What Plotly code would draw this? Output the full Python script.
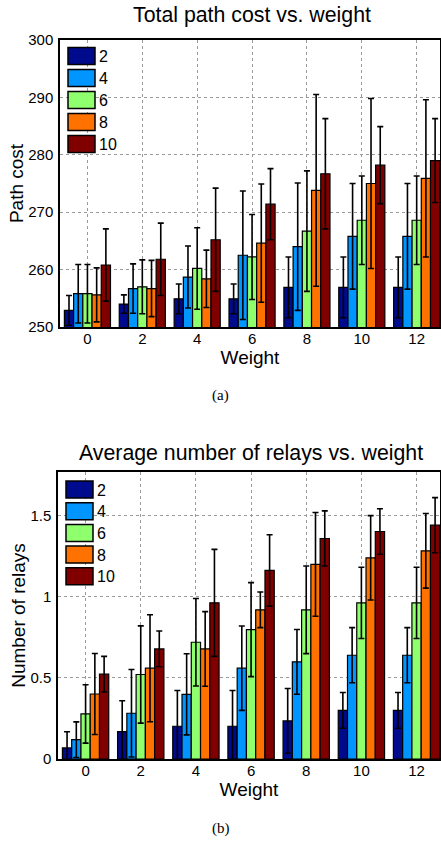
import plotly.graph_objects as go

weights = [0, 2, 4, 6, 8, 10, 12]
series_names = ["2", "4", "6", "8", "10"]
colors = ["#000A8C", "#0095FF", "#8FFF6E", "#FF7200", "#800000"]

# Total path cost (mean) per series
cost_2 = [252.9, 254.0, 254.9, 254.9, 256.9, 256.9, 256.9]
cost_4 = [255.8, 256.7, 258.7, 262.5, 264.0, 265.8, 265.8]
cost_6 = [255.8, 257.0, 260.2, 262.2, 266.7, 268.6, 268.6]
cost_8 = [255.6, 256.7, 258.4, 264.6, 273.8, 275.0, 275.9]
cost_10 = [260.8, 261.8, 265.2, 271.4, 276.7, 278.2, 279.0]
# error (std) of path cost
cost_err_2 = [2.6, 1.6, 2.6, 2.6, 5.3, 5.3, 5.3]
cost_err_4 = [5.1, 4.3, 5.4, 11.2, 11.1, 9.2, 9.2]
cost_err_6 = [5.1, 4.7, 7.1, 7.4, 10.5, 7.7, 7.7]
cost_err_8 = [4.7, 4.9, 5.0, 10.3, 16.7, 14.8, 13.7]
cost_err_10 = [6.3, 6.3, 9.0, 6.2, 9.6, 6.7, 7.3]

# Average number of relays per series
relays_2 = [0.068, 0.169, 0.202, 0.202, 0.235, 0.300, 0.300]
relays_4 = [0.119, 0.282, 0.399, 0.560, 0.599, 0.640, 0.640]
relays_6 = [0.278, 0.521, 0.720, 0.798, 0.920, 0.963, 0.963]
relays_8 = [0.401, 0.560, 0.679, 0.920, 1.200, 1.241, 1.284]
relays_10 = [0.523, 0.679, 0.963, 1.163, 1.360, 1.403, 1.442]
relays_err_2 = [0.10, 0.19, 0.22, 0.22, 0.20, 0.11, 0.11]
relays_err_4 = [0.11, 0.27, 0.25, 0.26, 0.20, 0.17, 0.17]
relays_err_6 = [0.18, 0.30, 0.27, 0.29, 0.27, 0.22, 0.22]
relays_err_8 = [0.25, 0.33, 0.23, 0.11, 0.32, 0.26, 0.23]
relays_err_10 = [0.11, 0.11, 0.33, 0.22, 0.17, 0.14, 0.17]

cost = [cost_2, cost_4, cost_6, cost_8, cost_10]
cost_err = [cost_err_2, cost_err_4, cost_err_6, cost_err_8, cost_err_10]
relays = [relays_2, relays_4, relays_6, relays_8, relays_10]
relays_err = [relays_err_2, relays_err_4, relays_err_6, relays_err_8, relays_err_10]

W, H = 441, 844
FONT = "Liberation Sans, Arial, sans-serif"

fig = go.Figure()
for i, name in enumerate(series_names):
    fig.add_trace(go.Bar(
        x=weights, y=cost[i], name=name, xaxis="x", yaxis="y",
        showlegend=False, legendgroup=name,
        marker=dict(color=colors[i], line=dict(color="black", width=1.2)),
        error_y=dict(type="data", array=cost_err[i], visible=True,
                     color="black", thickness=1.6, width=3),
    ))
for i, name in enumerate(series_names):
    fig.add_trace(go.Bar(
        x=weights, y=relays[i], name=name, xaxis="x2", yaxis="y2",
        showlegend=False, legendgroup=name,
        marker=dict(color=colors[i], line=dict(color="black", width=1.2)),
        error_y=dict(type="data", array=relays_err[i], visible=True,
                     color="black", thickness=1.6, width=3),
    ))

def px_x(p):
    return p / W

def px_y(p):
    return 1 - p / H

axis_common = dict(
    showline=True, linecolor="black", linewidth=1.5, mirror=True,
    showgrid=True, gridcolor="#9a9a9a", griddash="dot", gridwidth=1,
    zeroline=False, ticks="", automargin=False,
    tickfont=dict(family=FONT, size=15, color="black"),
)

# Legend drawn as swatches + text (MATLAB-style large patches)
shapes = []
annotations = []
legend_specs = [
    dict(left=68, top=47.5, step=22.0),   # panel (a)
    dict(left=66, top=481, step=21.7),    # panel (b)
]
for spec in legend_specs:
    for i, name in enumerate(series_names):
        y0 = spec["top"] + i * spec["step"]
        shapes.append(dict(
            type="rect", xref="paper", yref="paper",
            x0=px_x(spec["left"]), x1=px_x(spec["left"] + 27),
            y0=px_y(y0 + 17), y1=px_y(y0),
            fillcolor=colors[i], line=dict(color="black", width=1.5),
        ))
        annotations.append(dict(
            text=name, x=px_x(spec["left"] + 29), y=px_y(y0 + 9),
            xref="paper", yref="paper", xanchor="left", yanchor="middle",
            showarrow=False, font=dict(size=16, family=FONT, color="black"),
        ))

annotations += [
    dict(text="Total path cost vs. weight", x=px_x(252), y=px_y(15),
         xref="paper", yref="paper", xanchor="center", yanchor="middle",
         showarrow=False, font=dict(size=21.3, family=FONT, color="black")),
    dict(text="Average number of relays vs. weight", x=px_x(251), y=px_y(453),
         xref="paper", yref="paper", xanchor="center", yanchor="middle",
         showarrow=False, font=dict(size=21.3, family=FONT, color="black")),
    dict(text="(a)", x=px_x(221), y=px_y(395), xref="paper", yref="paper",
         xanchor="center", yanchor="middle", showarrow=False,
         font=dict(size=15, family="Liberation Serif, serif", color="black")),
    dict(text="(b)", x=px_x(221), y=px_y(828), xref="paper", yref="paper",
         xanchor="center", yanchor="middle", showarrow=False,
         font=dict(size=15, family="Liberation Serif, serif", color="black")),
]

fig.update_layout(
    width=W, height=H,
    margin=dict(l=0, r=0, t=0, b=0, pad=0, autoexpand=False),
    paper_bgcolor="white", plot_bgcolor="white",
    barmode="group", bargap=0.16, bargroupgap=0,
    font=dict(family=FONT, color="black"),
    showlegend=False,
    xaxis=dict(domain=[px_x(60), px_x(440)], anchor="y", range=[-1, 12.85],
               tickvals=weights, ticklabelstandoff=-3,
               title=dict(text="Weight", font=dict(size=19), standoff=0),
               **axis_common),
    yaxis=dict(domain=[px_y(327), px_y(40)], anchor="x", range=[250, 300],
               dtick=10, ticklabelstandoff=2,
               title=dict(text="Path cost", font=dict(size=19), standoff=0),
               **axis_common),
    xaxis2=dict(domain=[px_x(58), px_x(440)], anchor="y2", range=[-1, 12.85],
                tickvals=weights, ticklabelstandoff=-3,
                title=dict(text="Weight", font=dict(size=19), standoff=0),
                **axis_common),
    yaxis2=dict(domain=[px_y(759), px_y(472)], anchor="x2", range=[0, 1.77],
                tickvals=[0, 0.5, 1, 1.5], ticktext=["0", "0.5", "1", "1.5"],
                ticklabelstandoff=2,
                title=dict(text="Number of relays", font=dict(size=19), standoff=0),
                **axis_common),
    shapes=shapes,
    annotations=annotations,
)

fig.write_html(
    "out.html",
    config={"displayModeBar": False},
    post_script="document.body.style.margin='0';document.body.style.overflow='hidden';",
)
